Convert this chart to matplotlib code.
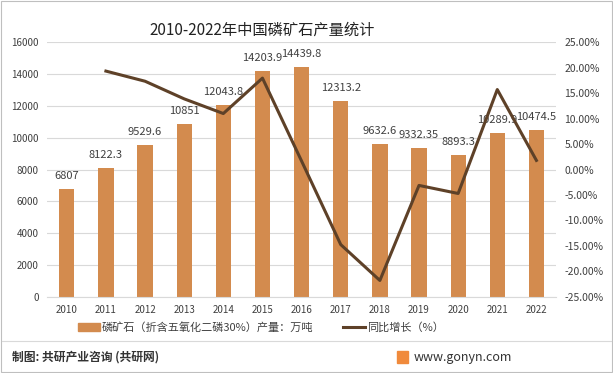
import numpy as np
import matplotlib.pyplot as plt
from matplotlib.patches import Rectangle
from matplotlib.lines import Line2D

plt.rcParams['font.family'] = ['Noto Sans CJK SC', 'DejaVu Sans']

years = ['2010', '2011', '2012', '2013', '2014', '2015', '2016',
         '2017', '2018', '2019', '2020', '2021', '2022']
output = [6807, 8122.3, 9529.6, 10851, 12043.8, 14203.9, 14439.8,
          12313.2, 9632.6, 9332.35, 8893.3, 10289.9, 10474.5]
output_labels = ['6807', '8122.3', '9529.6', '10851', '12043.8', '14203.9', '14439.8',
                 '12313.2', '9632.6', '9332.35', '8893.3', '10289.9', '10474.5']
growth = [None, 19.32, 17.33, 13.87, 10.99, 17.94, 1.66,
          -14.73, -21.77, -3.12, -4.70, 15.70, 1.79]

bar_color = '#D38B4E'
line_color = '#5E4128'

fig = plt.figure(figsize=(6.13, 3.73), dpi=100)
ax = fig.add_axes([0.077, 0.204, 0.83, 0.683])
x = np.arange(len(years))

ax.bar(x, output, width=0.39, color=bar_color, zorder=2)
for xi, v, lab in zip(x, output, output_labels):
    ax.text(xi, v + 500, lab, ha='center', va='bottom', fontsize=8, color='#404040', zorder=4)

ax.set_ylim(0, 16000)
ax.set_yticks(np.arange(0, 16001, 2000))
ax.set_xlim(-0.5, len(years) - 0.5)
ax.set_xticks(x)
ax.set_xticklabels(years)
ax.grid(axis='y', color='#D9D9D9', linewidth=0.8, zorder=0)
for s in ['top', 'right', 'left']:
    ax.spines[s].set_visible(False)
ax.spines['bottom'].set_color('#D9D9D9')
ax.tick_params(axis='both', length=0, labelsize=7, colors='#404040')
ax.tick_params(axis='y', pad=6)
ax.tick_params(axis='x', pad=6)

ax2 = ax.twinx()
gx = [xi for xi, g in zip(x, growth) if g is not None]
gy = [g for g in growth if g is not None]
ax2.plot(gx, gy, color=line_color, linewidth=2.2, zorder=3)
ax2.set_ylim(-25, 25)
ax2.set_yticks(np.arange(-25, 25.1, 5))
ax2.set_yticklabels(['%.2f%%' % v for v in np.arange(-25, 25.1, 5)])
for s in ['top', 'right', 'left', 'bottom']:
    ax2.spines[s].set_visible(False)
ax2.tick_params(axis='y', length=0, labelsize=7.5, colors='#404040', pad=6)

fig.text(262 / 613, 1 - 30 / 373, '2010-2022年中国磷矿石产量统计', ha='center', va='center',
         fontsize=11, color='#222222')

# legend
fig.patches.append(Rectangle((78 / 613, 1 - 331 / 373), 22 / 613, 8 / 373,
                             transform=fig.transFigure, color=bar_color))
fig.text(102 / 613, 1 - 327 / 373, '磷矿石（折含五氧化二磷30%）产量：万吨', ha='left', va='center',
         fontsize=8, color='#404040')
fig.lines.append(Line2D([343 / 613, 365 / 613], [1 - 327 / 373, 1 - 327 / 373],
                        transform=fig.transFigure, color=line_color, linewidth=2.2))
fig.text(367 / 613, 1 - 327 / 373, '同比增长（%）', ha='left', va='center', fontsize=8, color='#404040')

# footer
fig.lines.append(Line2D([2 / 613, 611 / 613], [1 - 341 / 373, 1 - 341 / 373],
                        transform=fig.transFigure, color='#D9D9D9', linewidth=0.8))
fig.text(12 / 613, 1 - 357 / 373, '制图: 共研产业咨询 (共研网)', ha='left', va='center',
         fontsize=8.5, color='#333333', fontweight='bold')
fig.patches.append(Rectangle((397 / 613, 1 - 363 / 373), 11 / 613, 12 / 373,
                             transform=fig.transFigure, color='#F08A3C'))
fig.text(414 / 613, 1 - 357 / 373, 'www.gonyn.com', ha='left', va='center',
         fontsize=9, color='#333333')

# outer border
fig.patches.append(Rectangle((1 / 613, 1 / 373), 611 / 613, 371 / 373, transform=fig.transFigure,
                             fill=False, edgecolor='#BFBFBF', linewidth=0.8))

fig.savefig('out.png', dpi=100)
